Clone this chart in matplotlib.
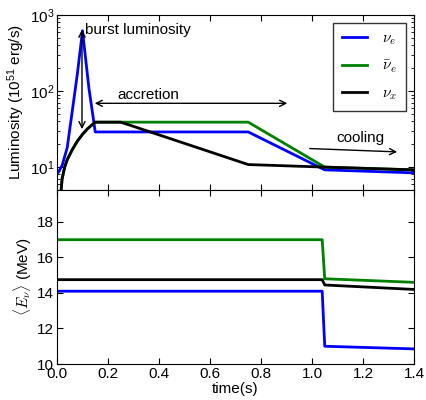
import numpy as np
import matplotlib
matplotlib.use("Agg")
import matplotlib.pyplot as plt
from matplotlib.ticker import FuncFormatter

plt.rcParams['font.family'] = ['Liberation Sans', 'DejaVu Sans']
plt.rcParams['mathtext.fontset'] = 'cm'
plt.rcParams['font.size'] = 11
for ax_ in ['xtick', 'ytick']:
    plt.rcParams[ax_ + '.direction'] = 'in'
    plt.rcParams[ax_ + '.major.size'] = 4
    plt.rcParams[ax_ + '.minor.size'] = 2
    plt.rcParams[ax_ + '.major.pad'] = 2
plt.rcParams['xtick.top'] = True
plt.rcParams['ytick.right'] = True

# luminosity (10^51 erg/s)
t_nue = [0, 0.02, 0.04, 0.06, 0.08, 0.1, 0.125, 0.15, 0.75, 1.05, 1.4]
L_nue = [8, 10.5, 18, 55, 170, 620, 110, 29, 29, 9.2, 8.4]
t_nuebar = [0.015, 0.02, 0.03, 0.04, 0.06, 0.08, 0.1, 0.12, 0.15, 0.75, 1.05, 1.4]
L_nuebar = [4.5, 7, 10, 12.5, 17, 22, 27, 32, 39, 39, 10, 9.2]
t_nux = [0.015, 0.02, 0.03, 0.04, 0.06, 0.08, 0.1, 0.12, 0.15, 0.25, 0.75, 1.05, 1.4]
L_nux = [4.5, 7, 10, 12.5, 17, 22, 27, 32, 39, 39, 10.8, 10, 9.2]

# mean energy (MeV)
t_E = [0, 1.04, 1.05, 1.4]
E_nue = [14.1, 14.1, 11.0, 10.85]
E_nuebar = [17.0, 17.0, 14.8, 14.6]
E_nux = [14.75, 14.75, 14.45, 14.2]

labels = [r'$\nu_e$', r'$\bar{\nu}_e$', r'$\nu_x$']
colors = ['b', 'g', 'k']

fig = plt.figure(figsize=(4.27, 4.0), dpi=100)
ax1 = fig.add_axes([0.1335, 0.525, 0.836, 0.4375])
ax2 = fig.add_axes([0.1335, 0.09, 0.836, 0.435], sharex=ax1)

ax1.plot(t_nue, L_nue, color=colors[0], lw=2, label=labels[0])
ax1.plot(t_nuebar, L_nuebar, color=colors[1], lw=2, label=labels[1])
ax1.plot(t_nux, L_nux, color=colors[2], lw=2, label=labels[2])
ax1.set_yscale('log')
ax1.set_ylim(5, 1000)
ax1.set_xlim(0, 1.4)
ax1.yaxis.set_major_formatter(FuncFormatter(lambda v, p: r'$\mathregular{10^{%d}}$' % round(np.log10(v))))
ax1.set_ylabel(r'Luminosity ($\mathregular{10^{51}}$ erg/s)', labelpad=2)
plt.setp(ax1.get_xticklabels(), visible=False)
leg = ax1.legend(loc='upper right', fancybox=False, handlelength=1.6, fontsize=11,
                 borderpad=0.6, labelspacing=0.75, handletextpad=1.0,
                 borderaxespad=0.5)
leg.get_frame().set_edgecolor('k')

ax1.annotate('', xy=(0.098, 700), xytext=(0.098, 29),
             arrowprops=dict(arrowstyle='<->', color='k', lw=1))
ax1.text(0.108, 640, 'burst luminosity', va='center', ha='left', fontsize=11)
ax1.annotate('', xy=(0.137, 69), xytext=(0.914, 69),
             arrowprops=dict(arrowstyle='<->', color='k', lw=1))
ax1.text(0.36, 88, 'accretion', va='center', ha='center', fontsize=11)
ax1.annotate('', xy=(1.345, 15.8), xytext=(0.98, 17.6),
             arrowprops=dict(arrowstyle='->', color='k', lw=1))
ax1.text(1.19, 24, 'cooling', va='center', ha='center', fontsize=11)

ax2.plot(t_E, E_nue, color=colors[0], lw=2)
ax2.plot(t_E, E_nuebar, color=colors[1], lw=2)
ax2.plot(t_E, E_nux, color=colors[2], lw=2)
ax2.set_ylim(10, 19.8)
ax2.set_yticks([10, 12, 14, 16, 18])
ax2.set_xticks([0, 0.2, 0.4, 0.6, 0.8, 1.0, 1.2, 1.4])
ax2.xaxis.set_major_formatter(FuncFormatter(lambda v, p: '%.1f' % v))
ax2.set_ylabel(r'$\langle E_\nu \rangle$ (MeV)', labelpad=2)
ax2.set_xlabel('time(s)', labelpad=1)

fig.savefig('out.png', dpi=100, facecolor='white')
